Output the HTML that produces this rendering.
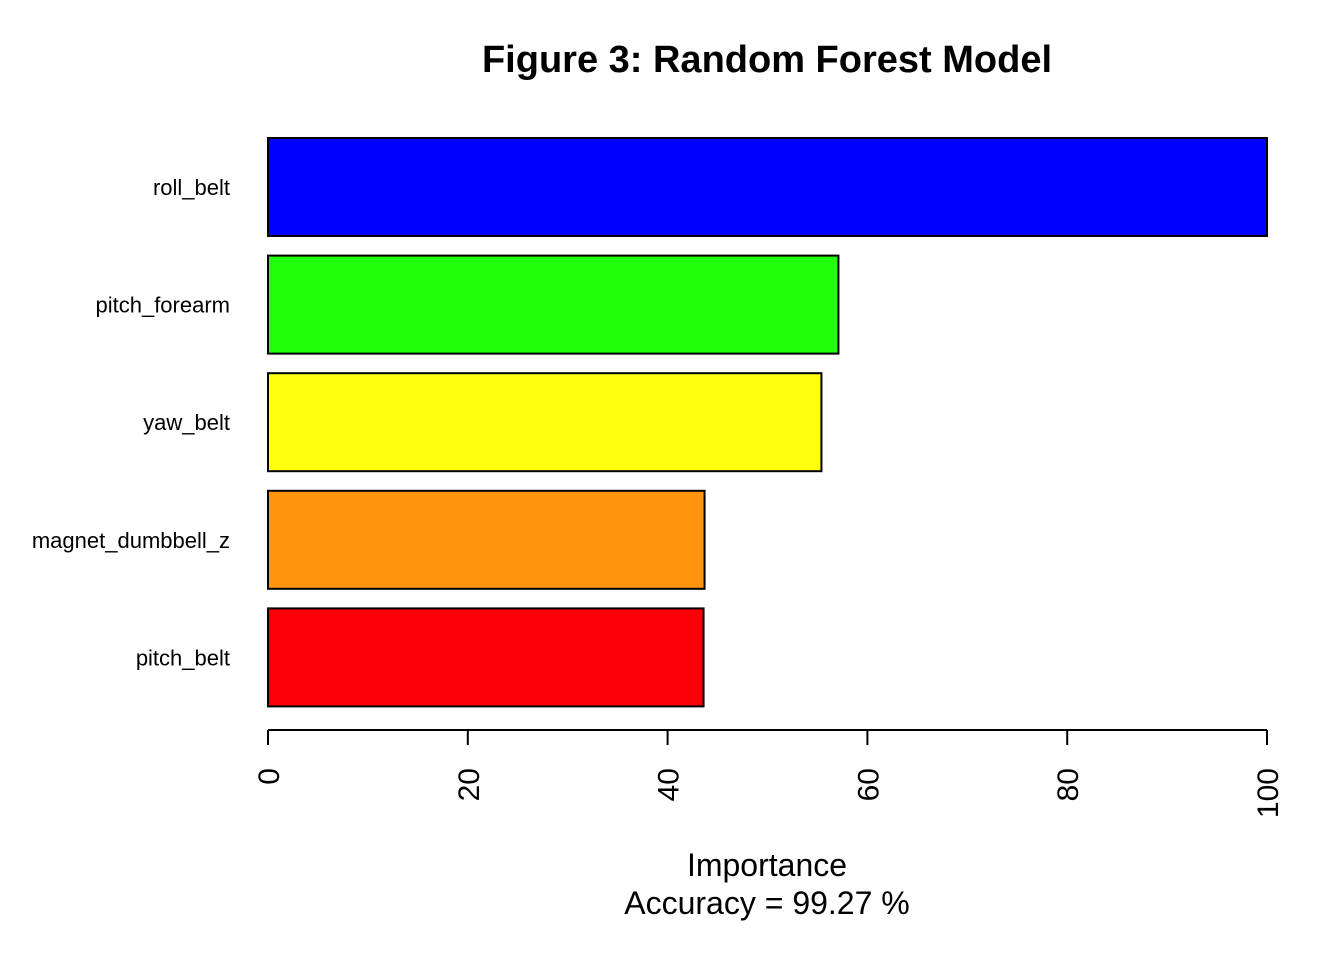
<!DOCTYPE html>
<html><head><meta charset="utf-8"><style>
html,body{margin:0;padding:0;background:#fff;}
svg text{font-family:"Liberation Sans",Arial,sans-serif;}
</style></head><body>
<svg id="chart" width="1344" height="960" viewBox="0 0 1344 960" xmlns="http://www.w3.org/2000/svg">
<text x="767" y="72" text-anchor="middle" font-size="38" font-weight="bold">Figure 3: Random Forest Model</text>
<g id="bars"></g>
<g id="xaxis"></g>
<text x="767" y="876" text-anchor="middle" font-size="32">Importance</text>
<text x="767" y="914" text-anchor="middle" font-size="32">Accuracy = 99.27 %</text>
</svg>
<script>
const categories = ["roll_belt","pitch_forearm","yaw_belt","magnet_dumbbell_z","pitch_belt"];
const values = [100, 57.1, 55.4, 43.7, 43.6];
const colors = ["#0000FF","#22FF0B","#FFFF10","#FF950F","#FC0007"];
const ticks = [0,20,40,60,80,100];
const tickLabels = ["0","20","40","60","80","100"];

const NS = "http://www.w3.org/2000/svg";
const x0 = 268, x1 = 1267, xmax = 100;
const xScale = v => x0 + (x1 - x0) * v / xmax;
const barTop = 138, step = 117.6, barH = 98;
const yScale = i => barTop + i * step;

const bars = document.getElementById("bars");
categories.forEach((c, i) => {
  const r = document.createElementNS(NS, "rect");
  r.setAttribute("x", xScale(0));
  r.setAttribute("y", yScale(i));
  r.setAttribute("width", xScale(values[i]) - xScale(0));
  r.setAttribute("height", barH);
  r.setAttribute("fill", colors[i]);
  r.setAttribute("stroke", "#000");
  r.setAttribute("stroke-width", "2");
  
  
  bars.appendChild(r);
  const t = document.createElementNS(NS, "text");
  t.setAttribute("x", 230);
  t.setAttribute("y", yScale(i) + barH / 2 + 8);
  t.setAttribute("text-anchor", "end");
  t.setAttribute("font-size", "22");
  t.textContent = c;
  
  
  bars.appendChild(t);
});

const ax = document.getElementById("xaxis");
const line = document.createElementNS(NS, "line");
line.setAttribute("x1", xScale(ticks[0])); line.setAttribute("x2", xScale(ticks[ticks.length-1]));
line.setAttribute("y1", 730); line.setAttribute("y2", 730);
line.setAttribute("stroke", "#000"); line.setAttribute("stroke-width", "2");


ax.appendChild(line);
ticks.forEach((v, i) => {
  const x = xScale(v);
  const tk = document.createElementNS(NS, "line");
  tk.setAttribute("x1", x); tk.setAttribute("x2", x);
  tk.setAttribute("y1", 730); tk.setAttribute("y2", 745);
  tk.setAttribute("stroke", "#000"); tk.setAttribute("stroke-width", "2");
  
  
  ax.appendChild(tk);
  const t = document.createElementNS(NS, "text");
  t.setAttribute("transform", "translate(" + (x + 11) + ",768) rotate(-90)");
  t.setAttribute("text-anchor", "end");
  t.setAttribute("font-size", "30");
  t.textContent = tickLabels[i];
  
  
  ax.appendChild(t);
});
</script>
</body></html>
